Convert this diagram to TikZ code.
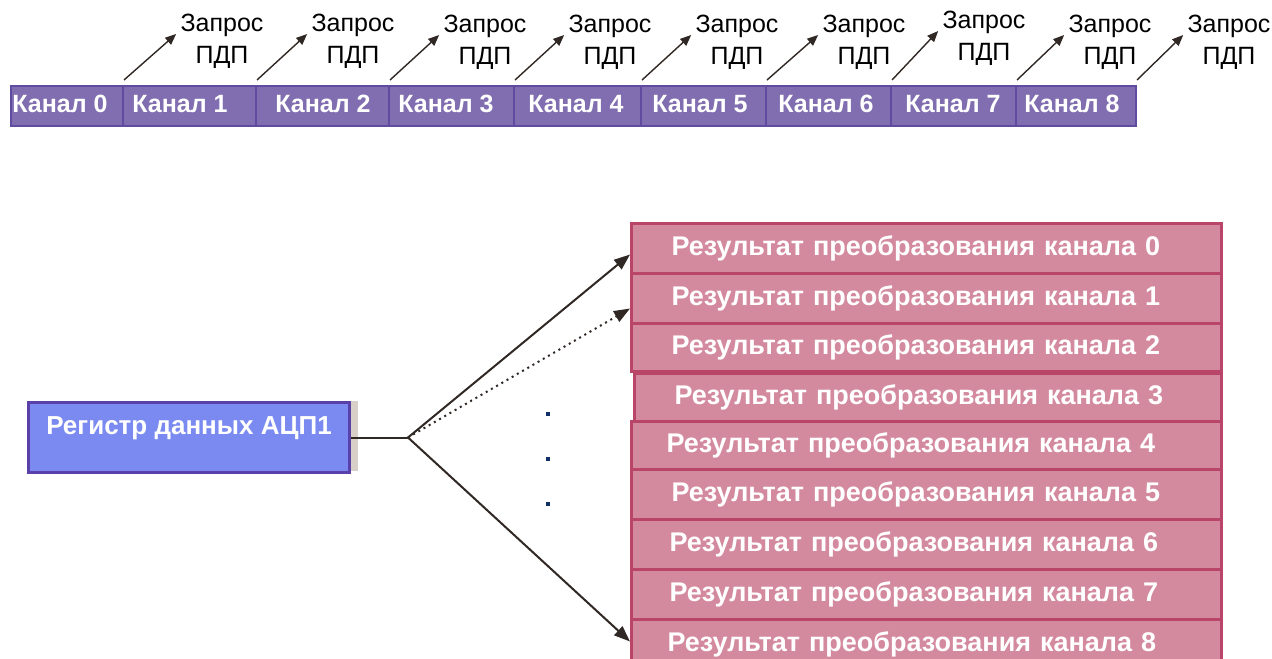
\documentclass[tikz,border=0pt]{standalone}
\usepackage{fontspec}
\setmainfont{Liberation Sans}
\usetikzlibrary{arrows.meta}
\definecolor{chfill}{HTML}{806EB0}
\definecolor{chdraw}{HTML}{5F4BA0}
\definecolor{regfill}{HTML}{7A8AF0}
\definecolor{regdraw}{HTML}{5A41AA}
\definecolor{resfill}{HTML}{D48A9E}
\definecolor{resdraw}{HTML}{B94669}
\definecolor{shad}{HTML}{D8D0C8}
\definecolor{arr}{HTML}{302824}
\definecolor{dotc}{HTML}{10306A}
\begin{document}
\begin{tikzpicture}[x=0.5pt,y=-0.5pt,
 cell/.style={draw=chdraw,fill=chfill,line width=1pt,minimum height=20pt,anchor=north west,inner sep=0pt},
 chtxt/.style={text=white,font=\bfseries\fontsize{12.5}{14}\selectfont,anchor=west,inner sep=0pt},
 req/.style={align=center,inner sep=0pt,font=\fontsize{12.5}{16}\selectfont},
 reqarr/.style={draw=arr,line width=0.7pt,-{Triangle[length=5.5pt,width=4.5pt]}},
 regbox/.style={draw=regdraw,fill=regfill,line width=1.5pt,minimum width=160.5pt,inner xsep=0pt,inner ysep=0pt,
   text height=16pt,text depth=19pt,text=white,font=\bfseries\fontsize{13}{15}\selectfont,anchor=north west},
 res/.style={draw=resdraw,fill=resfill,line width=1.5pt,minimum width=295pt,text width=255pt,inner xsep=20pt,inner ysep=0pt,
   align=left,text=white,font=\bfseries\fontsize{13.5}{15}\selectfont,anchor=north west},
 fanarr/.style={draw=arr,line width=1pt,-{Triangle[length=8pt,width=6pt]}}
]
\useasboundingbox (0,0) rectangle (1272,658);
\fill[white] (0,0) rectangle (1272,658);
\clip (0,0) rectangle (1272,658);

% channel bar
\node[cell,minimum width=56pt]   (c0) at (10,85)   {};
\node[cell,minimum width=66.5pt] (c1) at (122,85)  {};
\node[cell,minimum width=66.5pt] (c2) at (255,85)  {};
\node[cell,minimum width=62.5pt] (c3) at (388,85)  {};
\node[cell,minimum width=63.5pt] (c4) at (513,85)  {};
\node[cell,minimum width=62.5pt] (c5) at (640,85)  {};
\node[cell,minimum width=62.5pt] (c6) at (765,85)  {};
\node[cell,minimum width=62.5pt] (c7) at (890,85)  {};
\node[cell,minimum width=60pt]   (c8) at (1015,85) {};
\node[chtxt] (t0) at (12,104)   {Канал 0};
\node[chtxt] (t1) at (132,104)  {Канал 1};
\node[chtxt] (t2) at (275,104)  {Канал 2};
\node[chtxt] (t3) at (398,104)  {Канал 3};
\node[chtxt] (t4) at (528,104)  {Канал 4};
\node[chtxt] (t5) at (652,104)  {Канал 5};
\node[chtxt] (t6) at (778,104)  {Канал 6};
\node[chtxt] (t7) at (905,104)  {Канал 7};
\node[chtxt] (t8) at (1024,104) {Канал 8};

% DMA requests
\node[req] (q1) at (222,41)  {Запрос\\ПДП};
\node[req] (q2) at (353,41)  {Запрос\\ПДП};
\node[req] (q3) at (485,42)  {Запрос\\ПДП};
\node[req] (q4) at (610,42)  {Запрос\\ПДП};
\node[req] (q5) at (737,42)  {Запрос\\ПДП};
\node[req] (q6) at (864,42)  {Запрос\\ПДП};
\node[req] (q7) at (984,38)  {Запрос\\ПДП};
\node[req] (q8) at (1110,42) {Запрос\\ПДП};
\node[req] (q9) at (1229,42) {Запрос\\ПДП};
\foreach \a/\b in {c0/q1,c1/q2,c2/q3,c3/q4,c4/q5,c5/q6,c6/q7,c7/q8,c8/q9}
  \draw[reqarr] ([yshift=2.5pt]\a.north east) -- ([xshift=-2pt,yshift=3.5pt]\b.west);

% register
\fill[shad] (348,401) rectangle (358,471);
\node[regbox] (reg) at (27,401) {Регистр данных АЦП1};
\coordinate (fan) at ([xshift=28.5pt]reg.east);
\draw[draw=arr,line width=1pt] (reg.east) -- (fan);

% results
\node[res,minimum height=25pt] (r0) at (630,222) {Результат преобразования канала 0};
\node[res,minimum height=25pt] (r1) at (630,272) {Результат преобразования канала 1};
\node[res,minimum height=24pt] (r2) at (630,322) {Результат преобразования канала 2};
\node[res,minimum height=24pt,minimum width=293.5pt,text width=253.5pt] (r3) at (633,372) {Результат преобразования канала 3};
\node[res,minimum height=24pt,inner xsep=17.5pt,text width=260pt] (r4) at (630,420) {Результат преобразования канала 4};
\node[res,minimum height=25pt] (r5) at (630,468) {Результат преобразования канала 5};
\node[res,minimum height=25pt,inner xsep=19pt,text width=257pt] (r6) at (630,518) {Результат преобразования канала 6};
\node[res,minimum height=25pt,inner xsep=19pt,text width=257pt] (r7) at (630,568) {Результат преобразования канала 7};
\node[res,minimum height=25pt,inner xsep=18pt,text width=259pt] (r8) at (630,618) {Результат преобразования канала 8};

\draw[fanarr] (fan) -- ([yshift=-3pt]r0.west);
\draw[fanarr,dotted] (fan) -- ([yshift=-5pt]r1.west);
\draw[fanarr] (fan) -- ([yshift=1.5pt]r8.west);

% dots
\foreach \yy in {412,457,502} \fill[dotc] (546,\yy) rectangle (550,\yy+4);
\end{tikzpicture}
\end{document}
